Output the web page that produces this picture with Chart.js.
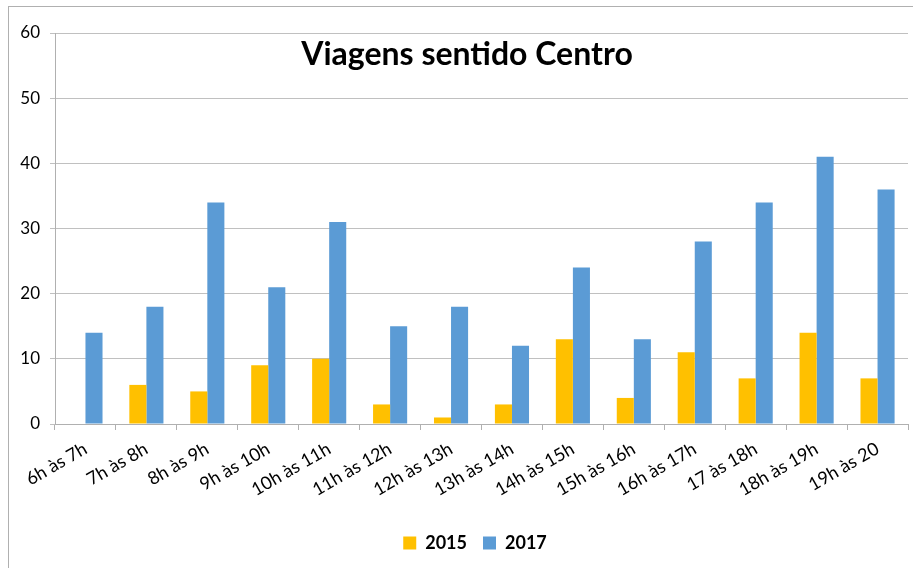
<!DOCTYPE html>
<html lang="pt">
<head>
  <meta charset="UTF-8" />
  <title>Viagens sentido Centro</title>
  <script src="https://cdn.jsdelivr.net/npm/chart.js"></script>
  <style>
    html, body { margin: 0; padding: 0; background: #fff; overflow: hidden; }
    #frame { position: absolute; left: 8px; top: 6px; width: 1000px; height: 700px; border: 1px solid #b0b0b0; }
    #wrap { position: absolute; left: 0; top: 0; width: 913px; height: 568px; }
  </style>
</head>
<body>
  <div id="frame"></div>
  <div id="wrap"><canvas id="chart"></canvas></div>

  <script>
    const categories = ['6h às 7h', '7h às 8h', '8h às 9h', '9h às 10h', '10h às 11h', '11h às 12h', '12h às 13h',
      '13h às 14h', '14h às 15h', '15h às 16h', '16h às 17h', '17 às 18h', '18h às 19h', '19h às 20'];
    const values2015 = [0, 6, 5, 9, 10, 3, 1, 3, 13, 4, 11, 7, 14, 7];
    const values2017 = [14, 18, 34, 21, 31, 15, 18, 12, 24, 13, 28, 34, 41, 36];
    const yTicks = [0, 10, 20, 30, 40, 50, 60];

    const FONT = 'Lato, "Open Sans", sans-serif';

    // titulo desenhado por cima da área do gráfico, como no Excel
    const titlePlugin = {
      id: 'overTitle',
      afterLayout(chart) {
        // legenda um pouco à direita do centro
        chart.legend.left += 21;
        chart.legend.right += 21;
      },
      afterDraw(chart) {
        const c = chart.ctx;
        c.save();
        c.font = 'bold 32px ' + FONT;
        c.fillStyle = '#000';
        c.textAlign = 'center';
        c.textBaseline = 'middle';
        c.fillText('Viagens sentido Centro', 467, 55);
        c.restore();
      }
    };

    const ctx = document.getElementById('chart').getContext('2d');
    new Chart(ctx, {
      type: 'bar',
      data: {
        labels: categories,
        datasets: [
          { label: '2015', data: values2015, backgroundColor: '#FFC000' },
          { label: '2017', data: values2017, backgroundColor: '#5B9BD5' }
        ]
      },
      options: {
        responsive: true,
        maintainAspectRatio: false,
        animation: false,
        datasets: { bar: { categoryPercentage: 0.56, barPercentage: 1 } },
        layout: { padding: { top: 33, right: 5, left: 0, bottom: 6 } },
        plugins: {
          tooltip: { enabled: false },
          legend: {
            position: 'bottom',
            labels: {
              boxWidth: 13, boxHeight: 13, padding: 16,
              color: '#000',
              font: { family: FONT, size: 18, weight: 'bold' }
            }
          }
        },
        scales: {
          x: {
            grid: { display: true, drawOnChartArea: false, drawTicks: true, tickLength: 6, color: '#b0b0b0', offset: true },
            border: { color: '#b0b0b0' },
            ticks: {
              color: '#000', minRotation: 30, maxRotation: 30, autoSkip: false, padding: 8,
              font: { family: FONT, size: 18 }
            },
            afterFit(scale) { scale.height = 94; }
          },
          y: {
            min: 0, max: 60,
            afterBuildTicks(scale) { scale.ticks = yTicks.map(v => ({ value: v })); },
            grid: { color: '#c0c0c0', tickLength: 5 },
            border: { color: '#b0b0b0' },
            ticks: { color: '#000', padding: 10, font: { family: FONT, size: 17 } },
            afterFit(scale) { scale.width = 55; }
          }
        }
      },
      plugins: [titlePlugin]
    });
  </script>
</body>
</html>
